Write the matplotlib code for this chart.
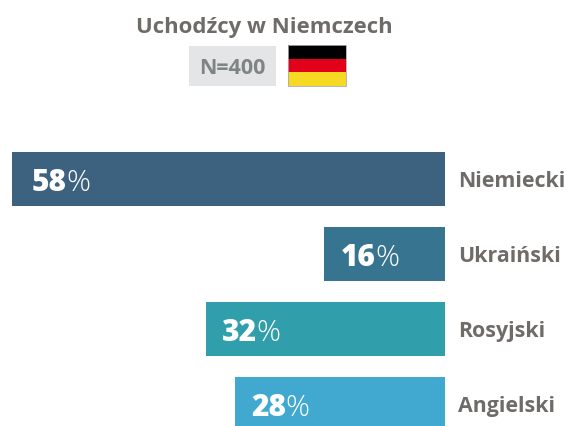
#!/usr/bin/env python3
import matplotlib
matplotlib.use("Agg")
import matplotlib.pyplot as plt
from matplotlib.patches import Rectangle

# data
languages = ["Niemiecki", "Ukraiński", "Rosyjski", "Angielski"]
values = [58, 16.2, 32, 28.1]
bar_colors = ["#3d627f", "#37748f", "#319fab", "#41a9cf"]
title = "Uchodźcy w Niemczech"
sample = "N=400"
flag_colors = ["#000000", "#e2001a", "#f5d923"]

plt.rcParams["font.family"] = ["Open Sans", "DejaVu Sans"]

fig = plt.figure(figsize=(5.77, 4.26), dpi=100)

# bars grow to the left, right edge at x=445
ax = fig.add_axes([12 / 577, 0, (445 - 12) / 577, 1])
ax.set_xlim(58, 0)
ax.set_ylim(426, 0)
ax.axis("off")

# overlay in pixel coordinates for header and labels, on top of the bars
ov = fig.add_axes([0, 0, 1, 1], zorder=5)
ov.set_xlim(0, 577)
ov.set_ylim(426, 0)
ov.axis("off")
ov.patch.set_alpha(0)

bar_y = [179, 254, 329, 404]
pads = [20, 17, 16, 16]
ax.barh(bar_y, values, height=54, color=bar_colors)

for y, v, lang, pad in zip(bar_y, values, languages, pads):
    # percent label, bold number with a light percent sign
    left = ax.transData.transform((v, y))[0]
    num = ov.text(left + pad, y + 12, str(round(v)), color="white", fontsize=21.5,
                  fontweight="heavy", va="baseline", ha="left")
    fig.canvas.draw()
    bb = num.get_window_extent()
    ov.text(bb.x1 - 1, y + 12, "%", color="white", fontsize=21.5,
            fontweight="light", va="baseline", ha="left")
    ov.text(458, y + 8, lang, color="#6f6b68", fontsize=15.4,
            fontweight="bold", va="baseline", ha="left")

# header
ov.text(264.5, 33, title, color="#6f6b68", fontsize=15.9, fontweight="bold",
        ha="center", va="baseline")
ov.add_patch(Rectangle((189, 46), 87, 40, color="#e4e5e7", lw=0))
ov.text(232.5, 73.5, sample, color="#7f8585", fontsize=15.5, fontweight="bold",
        ha="center", va="baseline")
for i, c in enumerate(flag_colors):
    ov.add_patch(Rectangle((288, 45 + i * 13.7), 57.5, 13.7, color=c, lw=0))
ov.add_patch(Rectangle((288, 45), 57.5, 41.1, fill=False, edgecolor="#a9abb5", lw=0.6))

fig.savefig("out.png", dpi=100)
